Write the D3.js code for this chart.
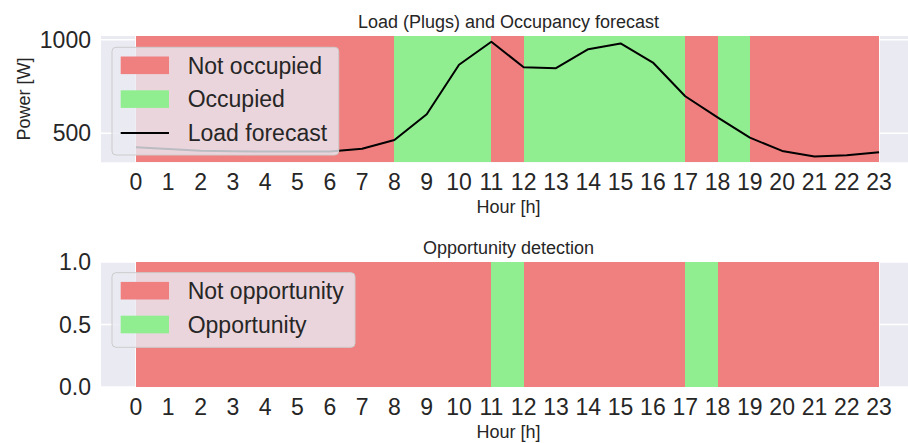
<html>
<head>
<title>Load and Occupancy forecast</title>
<script type="text/javascript" src="https://d3js.org/d3.v7.min.js"></script>
<style>
  body { margin: 0; background: #fff; }
  text { font-family: "Liberation Sans", Arial, sans-serif; fill: #262626; }
</style>
</head>
<body>
<div id="my-viz"></div>
<script type="text/javascript">
// data
var hours = [0, 1, 2, 3, 4, 5, 6, 7, 8, 9, 10, 11, 12, 13, 14, 15, 16, 17, 18, 19, 20, 21, 22, 23];
var loadForecast = [426, 417, 407, 404, 403, 403, 403, 418, 464, 602, 866, 989, 853, 848, 949, 980, 878, 698, 585, 477, 406, 376, 383, 399];
// state of each hour slot [h, h+1], h = 0..22 (1 = occupied / opportunity)
var occupied = [0, 0, 0, 0, 0, 0, 0, 0, 1, 1, 1, 0, 1, 1, 1, 1, 1, 0, 1, 0, 0, 0, 0];
var opportunity = [0, 0, 0, 0, 0, 0, 0, 0, 0, 0, 0, 1, 0, 0, 0, 0, 0, 1, 0, 0, 0, 0, 0];
var loadTicks = [500, 1000];
var oppTicks = [0.0, 0.5, 1.0];

var w = 908, h = 443;
var red = "#f08080", green = "#90ee90", bg = "#eaeaf2";

var svg = d3.select("#my-viz").append("svg")
    .attr("width", w)
    .attr("height", h);

var x = d3.scaleLinear().domain([-1.08, 24.08]).range([101, 914]);

function drawPanel(top, bottom, yScale, yTicks, yFmt, states, title, titleY, tickY, labelY) {
    var g = svg.append("g");

    g.append("rect")
        .attr("x", x.range()[0]).attr("y", top)
        .attr("width", x.range()[1] - x.range()[0]).attr("height", bottom - top)
        .attr("fill", bg);

    // grid
    g.selectAll(".hgrid").data(yTicks).enter().append("line")
        .attr("x1", x.range()[0]).attr("x2", x.range()[1])
        .attr("y1", function(d) { return yScale(d); })
        .attr("y2", function(d) { return yScale(d); })
        .attr("stroke", "#fff").attr("stroke-width", 1.5);
    g.selectAll(".vgrid").data(hours).enter().append("line")
        .attr("x1", function(d) { return x(d); })
        .attr("x2", function(d) { return x(d); })
        .attr("y1", top).attr("y2", bottom)
        .attr("stroke", "#fff").attr("stroke-width", 1.5);

    // spans
    g.selectAll(".span").data(states).enter().append("rect")
        .attr("x", function(d, i) { return x(hours[i]); })
        .attr("width", function(d, i) { return x(hours[i + 1]) - x(hours[i]); })
        .attr("y", top).attr("height", bottom - top)
        .attr("fill", function(d) { return d ? green : red; })
        .attr("shape-rendering", "crispEdges");

    // y tick labels
    g.selectAll(".ytick").data(yTicks).enter().append("text")
        .attr("x", 91)
        .attr("y", function(d) { return yScale(d) + 8; })
        .attr("text-anchor", "end")
        .style("font-size", "23px")
        .text(yFmt);

    // x tick labels
    g.selectAll(".xtick").data(hours).enter().append("text")
        .attr("x", function(d) { return x(d); })
        .attr("y", tickY)
        .attr("text-anchor", "middle")
        .style("font-size", "23px")
        .text(function(d) { return d; });

    g.append("text")
        .attr("x", 508.5).attr("y", labelY)
        .attr("text-anchor", "middle")
        .style("font-size", "18px")
        .text("Hour [h]");

    g.append("text")
        .attr("x", 508.5).attr("y", titleY)
        .attr("text-anchor", "middle")
        .style("font-size", "18px")
        .text(title);

    return g;
}

function drawLegend(items, box) {
    var lg = svg.append("g");
    lg.append("rect")
        .attr("x", box.x).attr("y", box.y)
        .attr("width", box.w).attr("height", box.h)
        .attr("rx", 4).attr("ry", 4)
        .attr("fill", bg).attr("fill-opacity", 0.8)
        .attr("stroke", "#cccccc").attr("stroke-width", 1);
    items.forEach(function(it, i) {
        var cy = box.y + 18 + i * 33.8;
        if (it.type === "patch") {
            lg.append("rect")
                .attr("x", 120.7).attr("y", cy - 8.8)
                .attr("width", 48.3).attr("height", 17.6)
                .attr("fill", it.color);
        } else {
            lg.append("line")
                .attr("x1", 120.7).attr("x2", 169)
                .attr("y1", cy).attr("y2", cy)
                .attr("stroke", it.color).attr("stroke-width", 2);
        }
        lg.append("text")
            .attr("x", 187.7).attr("y", cy + 8.3)
            .style("font-size", "23px")
            .text(it.label);
    });
}

// top panel: load + occupancy
var yLoadExt = d3.extent(loadForecast);
var pad = (yLoadExt[1] - yLoadExt[0]) * 0.05;
var yLoad = d3.scaleLinear().domain([yLoadExt[0] - pad, yLoadExt[1] + pad]).range([162.3, 36]);

var loadPanel = drawPanel(36, 162.3, yLoad, loadTicks, function(d) { return d; }, occupied,
    "Load (Plugs) and Occupancy forecast", 28.3, 189.5, 212.5);

var line = d3.line()
    .x(function(d, i) { return x(hours[i]); })
    .y(function(d) { return yLoad(d); });

loadPanel.append("path")
    .datum(loadForecast)
    .attr("d", line)
    .attr("fill", "none")
    .attr("stroke", "#000")
    .attr("stroke-width", 2)
    .attr("stroke-linejoin", "round");

svg.append("text")
    .attr("transform", "translate(29.6,99) rotate(-90)")
    .attr("text-anchor", "middle")
    .style("font-size", "18px")
    .text("Power [W]");

drawLegend([
    { type: "patch", color: red, label: "Not occupied" },
    { type: "patch", color: green, label: "Occupied" },
    { type: "line", color: "#000", label: "Load forecast" }
], { x: 112, y: 47.3, w: 226.7, h: 107.7 });

// bottom panel: opportunity
var yOpp = d3.scaleLinear().domain([0, 1]).range([387, 262]);
drawPanel(262, 387, yOpp, oppTicks, function(d) { return d.toFixed(1); }, opportunity,
    "Opportunity detection", 253.6, 415, 438);

drawLegend([
    { type: "patch", color: red, label: "Not opportunity" },
    { type: "patch", color: green, label: "Opportunity" }
], { x: 112, y: 272.7, w: 243, h: 74.6 });
</script>
</body>
</html>
